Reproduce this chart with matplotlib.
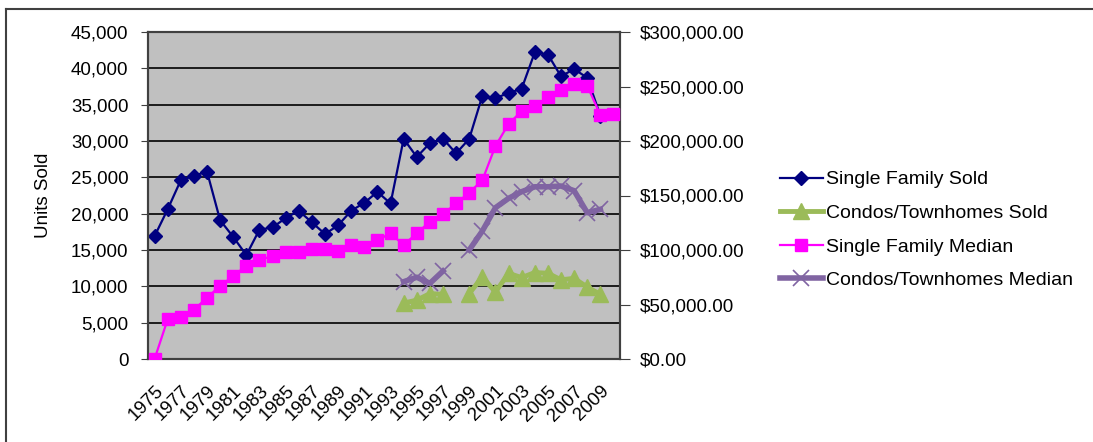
import numpy as np
import matplotlib
matplotlib.use("Agg")
import matplotlib.pyplot as plt
from matplotlib.lines import Line2D
from matplotlib.ticker import FuncFormatter, MultipleLocator

plt.rcParams['font.family'] = ['Liberation Sans', 'DejaVu Sans']

years = list(range(1975, 2011))
nan = np.nan

single_family_sold = [16900, 20600, 24600, 25200, 25800, 19100, 16800, 14300, 17800, 18100,
                      19400, 20400, 18800, 17200, 18400, 20400, 21500, 23000, 21400, 30300,
                      27800, 29700, 30300, 28300, 30300, 36200, 35900, 36600, 37200, 42200,
                      41900, 38900, 39900, 38700, 33500, nan]

condo_sold = [nan] * 19 + [7700, 8100, 9000, 8900, nan, 9000, 11300, 9200, 11800, 11200,
                           11900, 11800, 10900, 11100, 9900, 8900, nan]

single_family_median = [0, 36400, 38200, 45000, 56300, 67000, 76100, 85600, 90800, 94500,
                        98500, 97900, 100600, 100600, 99100, 104600, 102400, 109000, 115300, 104600,
                        115300, 126000, 132700, 142800, 152600, 164000, 195400, 215600, 227500, 232000,
                        240000, 246800, 252000, 250700, 223900, 224500]

condo_median = [nan] * 19 + [70900, 75000, 69400, 80700, nan, 100000, 117400, 138800, 147400, 153500,
                             158000, 158000, 158700, 154400, 134200, 137300, nan]

labels = ["Single Family Sold", "Condos/Townhomes Sold", "Single Family Median", "Condos/Townhomes Median"]

W, H = 1093, 442
fig = plt.figure(figsize=(W / 100, H / 100), dpi=100)
L, R, T, B = 148, 620, 32, 359
ax = fig.add_axes([L / W, 1 - B / H, (R - L) / W, (B - T) / H])
ax2 = ax.twinx()

x = np.arange(len(years))
fs = 13.5

ax.set_facecolor('#C0C0C0')
ax.set_ylim(0, 45000)
ax.set_xlim(-0.5, len(years) - 0.5)
ax.yaxis.set_major_locator(MultipleLocator(5000))
ax.yaxis.set_major_formatter(FuncFormatter(lambda v, p: f"{int(v):,}"))
ax.grid(axis='y', color='#000000', linewidth=1.2)
ax.set_axisbelow(True)

ax2.set_ylim(0, 300000)
ax2.yaxis.set_major_locator(MultipleLocator(50000))
ax2.yaxis.set_major_formatter(FuncFormatter(lambda v, p: f"${v:,.2f}"))

l1, = ax.plot(x, single_family_sold, color='#000080', lw=1.6, marker='D', ms=7, zorder=3)
l2, = ax.plot(x, condo_sold, color='#9BBB59', lw=3.5, marker='^', ms=11, zorder=3)
l3, = ax2.plot(x, single_family_median, color='#FF00FF', lw=1.6, marker='s', ms=9, zorder=3)
l4, = ax2.plot(x, condo_median, color='#8064A2', lw=4, marker='x', ms=11, mew=1.2, zorder=3)

ax.set_xticks(x[::2])
ax.set_xticklabels([str(y) for y in years[::2]], rotation=45, ha='right',
                   rotation_mode='anchor', fontsize=fs)
ax.tick_params(axis='x', length=0, pad=17)
ax.tick_params(axis='y', labelsize=fs, length=5, direction='out', pad=9, color='#404040')
ax2.tick_params(axis='y', labelsize=fs, length=7, direction='out', pad=7, color='#404040')

for a in (ax, ax2):
    for s in a.spines.values():
        s.set_color('#404040')
        s.set_linewidth(1.5)

ax.set_ylabel("Units Sold", fontsize=fs)
ax.yaxis.set_label_coords((52 - L) / (R - L), 0.5)

fig.legend([l1, l2, l3, l4], labels, loc='center left', bbox_to_anchor=(772 / W, 1 - 230 / H),
           frameon=False, fontsize=14, handlelength=2.2, handletextpad=0.2, labelspacing=0.82,
           borderaxespad=0)

fig.add_artist(Line2D([6 / W, 1], [1 - 9 / H, 1 - 9 / H], color='#404040', lw=1.5))
fig.add_artist(Line2D([6 / W, 6 / W], [0, 1 - 9 / H], color='#404040', lw=1.5))

fig.savefig("out.png", dpi=100)
